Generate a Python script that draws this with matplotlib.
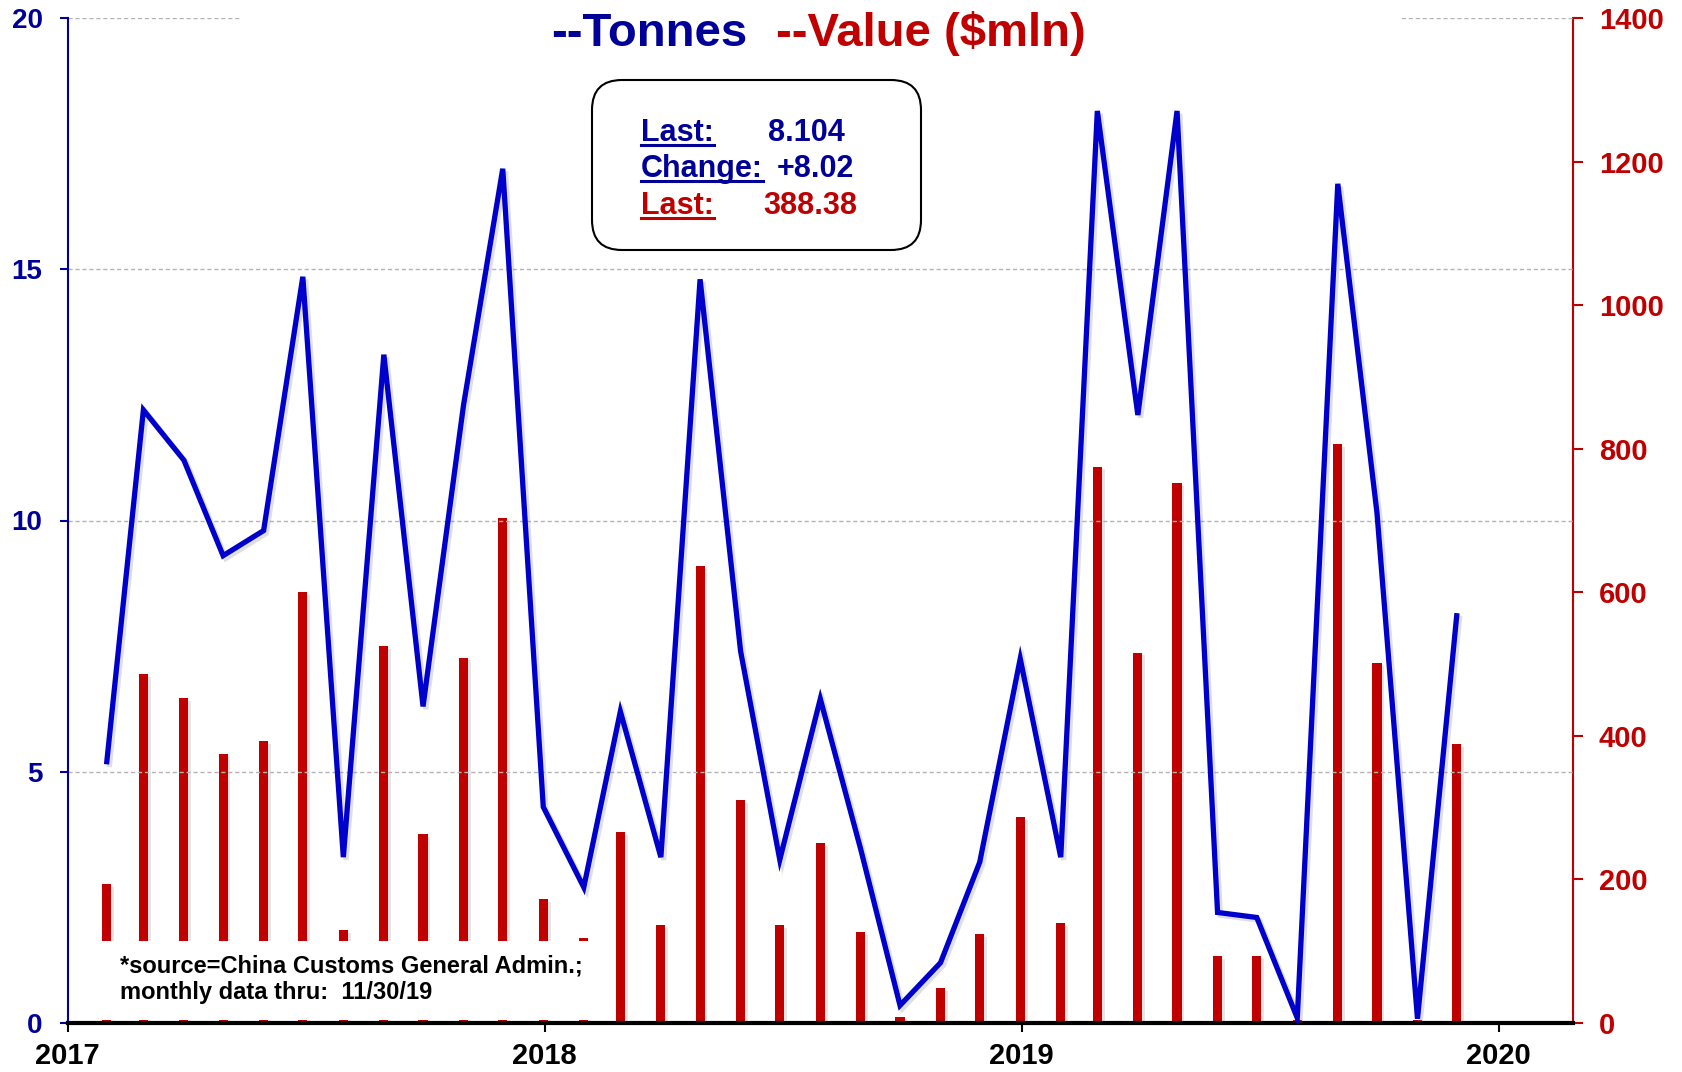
import matplotlib
matplotlib.use("Agg")
import matplotlib.pyplot as plt
import matplotlib.patheffects as pe
from matplotlib.patches import Rectangle, FancyBboxPatch
from matplotlib.lines import Line2D
from matplotlib.transforms import IdentityTransform
import pandas as pd

# monthly data, Jan 2017 .. Nov 2019 (plotted at month end)
months = pd.date_range("2017-01-31", periods=35, freq="ME")
tonnes = [5.2, 12.2, 11.2, 9.3, 9.8, 14.85, 3.3, 13.3, 6.3, 12.3, 17.0, 4.3,
          2.7, 6.2, 3.3, 14.8, 7.4, 3.25, 6.45, 3.45, 0.35, 1.2, 3.2, 7.25,
          3.3, 18.15, 12.1, 18.15, 2.2, 2.1, 0.1, 16.7, 10.15, 0.084, 8.104]
value_mln = [193, 486, 453, 375, 393, 600, 129, 525, 263, 509, 703, 173,
             118, 266, 136, 637, 311, 136, 251, 127, 9, 49, 124, 287,
             139, 775, 516, 752, 93, 93, 4, 806, 501, 4, 388.38]
year_ticks = ["2017", "2018", "2019", "2020"]
info_rows = [("Last:", "8.104"), ("Change:", "+8.02"), ("Last:", "388.38")]
source_lines = ["*source=China Customs General Admin.;", "monthly data thru:  11/30/19"]

BLUE = "#0000CC"
NAVY = "#000099"
RED = "#C00000"
W, H = 1683, 1072

plt.rcParams["font.family"] = ["Liberation Sans", "DejaVu Sans"]
plt.rcParams["font.weight"] = "bold"

fig = plt.figure(figsize=(W / 100, H / 100), dpi=100)
ax = fig.add_axes([67.6 / W, 1 - 1023 / H, (1573 - 67.6) / W, (1023 - 18) / H])
ax2 = ax.twinx()
ax.set_zorder(ax2.get_zorder() + 1)
ax.patch.set_visible(False)

# value bars (right axis)
ax2.bar(months, value_mln, width=7, color=RED, zorder=2,
        path_effects=[pe.SimplePatchShadow(offset=(2, -2), alpha=0.2, shadow_rgbFace="gray"),
                      pe.Normal()])
ax2.set_ylim(0, 1400)
ax2.set_yticks(range(0, 1401, 200))
ax2.tick_params(axis="y", colors=RED, length=7.5, width=1.5, labelsize=21, pad=11)
for lab in ax2.get_yticklabels():
    lab.set_fontweight("bold")
for s in ["left", "top", "bottom"]:
    ax2.spines[s].set_visible(False)
ax2.spines["right"].set_color(RED)
ax2.spines["right"].set_linewidth(1.5)

# tonnes line (left axis)
ax.plot(months, tonnes, color=BLUE, lw=3.8, solid_joinstyle="miter", zorder=3,
        path_effects=[pe.SimpleLineShadow(offset=(2, -2), alpha=0.25, shadow_color="gray"),
                      pe.Normal()])
ax.set_ylim(0, 20)
ax.set_yticks([0, 5, 10, 15, 20])
ax.yaxis.grid(True, color="#b4b4b4", linestyle=(0, (3, 2)), linewidth=1)
ax.tick_params(axis="y", colors=NAVY, length=6, width=1.5, labelsize=20, pad=12)
for lab in ax.get_yticklabels():
    lab.set_fontweight("bold")

ax.set_xlim(pd.Timestamp("2017-01-01"), pd.Timestamp("2020-02-27"))
ax.set_xticks([pd.Timestamp(f"{y}-01-01") for y in year_ticks])
ax.set_xticklabels(year_ticks, fontsize=21, fontweight="bold")
ax.tick_params(axis="x", colors="black", length=6.5, width=1.5, pad=7)
for s in ["right", "top"]:
    ax.spines[s].set_visible(False)
ax.spines["left"].set_color(NAVY)
ax.spines["left"].set_linewidth(1.5)
ax.spines["bottom"].set_color("black")
ax.spines["bottom"].set_linewidth(3)

px = IdentityTransform()

# white band behind the title
fig.add_artist(Rectangle((241, H - 60), 1160, 60, transform=px, facecolor="white",
                         edgecolor="none", zorder=5))
fig.text(551 / W, 1 - 46 / H, "--Tonnes", color=NAVY, fontsize=34, fontweight="bold",
         va="baseline", ha="left", zorder=6)
fig.text(776 / W, 1 - 46 / H, "--Value ($mln)", color=RED, fontsize=34, fontweight="bold",
         va="baseline", ha="left", zorder=6)

# info box
fig.add_artist(FancyBboxPatch((592, H - 250), 329, 170, transform=px,
                              boxstyle="round,pad=0,rounding_size=30",
                              facecolor="white", edgecolor="black", lw=1.5, zorder=5))
row_y = [141, 177, 214]
val_x = [768, 777, 763]
row_col = [NAVY, NAVY, RED]
labels = []
for (lab, val), y, vx, c in zip(info_rows, row_y, val_x, row_col):
    t = fig.text(641 / W, 1 - y / H, lab, color=c, fontsize=22, fontweight="bold",
                 va="baseline", zorder=6)
    labels.append((t, c))
    fig.text(vx / W, 1 - y / H, val, color=c, fontsize=22, fontweight="bold",
             va="baseline", zorder=6)

# source box
ax2.add_artist(Rectangle((102, H - 1020), 514, 79, transform=px, facecolor="white",
                         edgecolor="none", zorder=10, clip_on=False))
for i, line in enumerate(source_lines):
    fig.text(120 / W, 1 - (973 + 26 * i) / H, line, color="black", fontsize=17,
             fontweight="bold", va="baseline", zorder=11)

# underline info labels
fig.canvas.draw()
r = fig.canvas.get_renderer()
for t, c in labels:
    bb = t.get_window_extent(r)
    fig.add_artist(Line2D([bb.x0, bb.x1], [bb.y0 + 3, bb.y0 + 3], transform=px,
                          color=c, lw=2.2, zorder=6))

fig.savefig("out.png", dpi=100)
